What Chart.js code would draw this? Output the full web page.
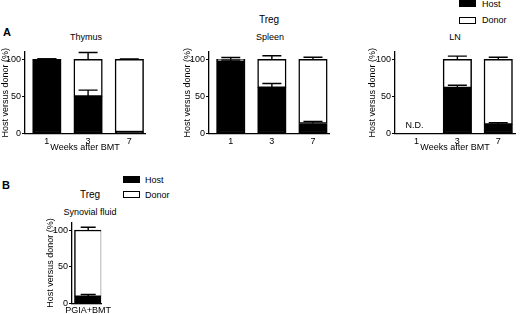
<!DOCTYPE html>
<html>
<head>
<meta charset="utf-8">
<script src="https://cdn.jsdelivr.net/npm/chart.js@4.4.1/dist/chart.umd.min.js"></script>
<style>
    body { margin: 0; background: #fff; }
    #fig { position: relative; width: 520px; height: 314px; overflow: hidden; font-family: "Liberation Sans", Arial, sans-serif; color: #000; }
    #fig canvas { position: absolute; }
    .t { position: absolute; white-space: nowrap; line-height: 1; transform: translate(-50%, -50%); font-size: 9px; }
    .l { position: absolute; white-space: nowrap; line-height: 1; transform: translateY(-50%); font-size: 9px; }
    .box { position: absolute; width: 17px; height: 7px; box-sizing: border-box; border: 1px solid #000; background: #fff; }
</style>
</head>
<body>
<div id="fig">
    <div class="t" style="left:7px;top:32px;font-size:11px;font-weight:bold">A</div>
    <div class="t" style="left:269px;top:20px;font-size:10px">Treg</div>
    <div class="t" style="left:86px;top:37px">Thymus</div>
    <div class="t" style="left:270px;top:37px">Spleen</div>
    <div class="t" style="left:455px;top:37px">LN</div>

    <div class="box" style="left:459px;top:0;background:#000"></div>
    <div class="l" style="left:482px;top:4px">Host</div>
    <div class="box" style="left:459px;top:17px"></div>
    <div class="l" style="left:482px;top:20px">Donor</div>

    <div class="t" style="left:6px;top:185px;font-size:11px;font-weight:bold">B</div>
    <div class="t" style="left:90px;top:195px;font-size:10px">Treg</div>
    <div class="t" style="left:90px;top:212px">Synovial fluid</div>
    <div class="box" style="left:123px;top:176px;background:#000"></div>
    <div class="l" style="left:145px;top:180px">Host</div>
    <div class="box" style="left:123px;top:191px"></div>
    <div class="l" style="left:145px;top:195px">Donor</div>

    <canvas id="thymus" width="148" height="117" style="left:0;top:40px"></canvas>
    <canvas id="spleen" width="150" height="117" style="left:182px;top:40px"></canvas>
    <canvas id="ln" width="151" height="117" style="left:367px;top:40px"></canvas>
    <canvas id="synovial" width="69" height="102" style="left:45px;top:212px"></canvas>
</div>
<script>
const weeks = ['1', '3', '7'];
const yTicks = [0, 50, 100];

const thymusHost = [100, 50, 2];
const thymusHostErr = [0.5, 8.6, 0.5];
const thymusDonor = [0, 50, 98];
const thymusDonorErr = [0.5, 9.4, 0.6];

const spleenHost = [98, 62, 13.5];
const spleenHostErr = [1, 5.4, 2.7];
const spleenDonor = [2, 38, 86.5];
const spleenDonorErr = [2.5, 5, 3];

const lnHost = [null, 61.5, 12.4];
const lnHostErr = [null, 3.7, 2.2];
const lnDonor = [null, 38.5, 87.6];
const lnDonorErr = [null, 4.4, 3];
const lnNotes = ['N.D.', null, null];

const synLabels = ['PGIA+BMT'];
const synHost = [9];
const synHostErr = [3];
const synDonor = [91];
const synDonorErr = [3.7];

Chart.defaults.font.family = '"Liberation Sans", Arial, sans-serif';
Chart.defaults.color = '#000';

// error bars (upward only) and the N.D. note
const panelMarks = {
    id: 'panelMarks',
    afterDatasetsDraw(chart, args, opts) {
        const ctx = chart.ctx;
        const x = chart.scales.x;
        const y = chart.scales.y;
        const base = chart.data.datasets[0].data.map(() => 0);
        ctx.save();
        ctx.strokeStyle = '#000';
        ctx.lineWidth = 1.4;
        chart.data.datasets.forEach((ds, di) => {
            const meta = chart.getDatasetMeta(di);
            ds.data.forEach((p, i) => {
                if (p.y == null) return;
                base[i] += p.y;
                const err = ds.errors[i];
                if (!err) return;
                const px = meta.data[i].x;
                const y0 = y.getPixelForValue(base[i]);
                const y1 = y.getPixelForValue(base[i] + err);
                ctx.beginPath();
                ctx.moveTo(px, y0);
                ctx.lineTo(px, y1);
                ctx.moveTo(px - opts.cap / 2, y1);
                ctx.lineTo(px + opts.cap / 2, y1);
                ctx.stroke();
            });
        });
        if (opts.notes) {
            ctx.fillStyle = '#000';
            ctx.font = '9px "Liberation Sans", Arial, sans-serif';
            ctx.textAlign = 'center';
            ctx.textBaseline = 'middle';
            opts.notes.forEach((n, i) => {
                if (!n) return;
                ctx.fillText(n, x.getPixelForValue(i) - 2, y.getPixelForValue(opts.noteY));
            });
        }
        ctx.restore();
    }
};

function drawPanel(id, labels, host, hostErr, donor, donorErr, cfg) {
    new Chart(document.getElementById(id), {
        type: 'bar',
        data: {
            datasets: [{
                label: 'Host',
                data: host.map((v, i) => ({ x: i, y: v })),
                errors: hostErr,
                backgroundColor: '#000',
                borderColor: '#000',
                borderWidth: 1.5,
                borderSkipped: false,
                barThickness: cfg.bar
            }, {
                label: 'Donor',
                data: donor.map((v, i) => ({ x: i, y: v })),
                errors: donorErr,
                backgroundColor: '#fff',
                borderColor: '#000',
                borderWidth: 1.5,
                borderSkipped: false,
                barThickness: cfg.bar
            }]
        },
        options: {
            responsive: false,
            animation: false,
            layout: { padding: { top: cfg.padTop, right: cfg.padRight, left: 0, bottom: 0 } },
            plugins: {
                legend: { display: false },
                tooltip: { enabled: false },
                panelMarks: { cap: cfg.cap, notes: cfg.notes, noteY: 10.5 }
            },
            scales: {
                x: {
                    type: 'linear',
                    stacked: true,
                    offset: false,
                    bounds: 'data',
                    min: cfg.xmin,
                    max: cfg.xmax,
                    afterBuildTicks: s => { s.ticks = labels.map((w, i) => ({ value: i })); },
                    afterFit: s => { s.height = cfg.xHeight; },
                    ticks: {
                        callback: v => labels[v],
                        font: { size: 9 },
                        color: '#000',
                        padding: cfg.xPad,
                        maxRotation: 0,
                        autoSkip: false
                    },
                    grid: { display: false, drawTicks: false, tickLength: 0 },
                    border: { color: '#000', width: 1.3 },
                    title: {
                        display: !!cfg.xTitle,
                        text: cfg.xTitle || '',
                        font: { size: 9 },
                        color: '#000',
                        padding: { top: 0, bottom: 4 }
                    }
                },
                y: {
                    stacked: true,
                    bounds: 'data',
                    min: 0,
                    max: 110,
                    afterBuildTicks: s => { s.ticks = yTicks.map(v => ({ value: v })); },
                    afterFit: s => { s.width = cfg.yWidth; },
                    ticks: { font: { size: 9 }, color: '#000', padding: 1 },
                    grid: { drawOnChartArea: false, drawTicks: true, tickLength: 3, color: '#000', lineWidth: 1 },
                    border: { color: '#000', width: 1.3 },
                    title: {
                        display: true,
                        text: 'Host versus donor (%)',
                        font: { size: 9 },
                        color: '#000',
                        padding: { top: 0, bottom: 0 }
                    }
                }
            }
        },
        plugins: [panelMarks]
    });
}

drawPanel('thymus', weeks, thymusHost, thymusHostErr, thymusDonor, thymusDonorErr, {
    yWidth: 25, padTop: 12, padRight: 3, xmin: -0.53, xmax: 2.38,
    xHeight: 23.5, xPad: 3, xTitle: 'Weeks after BMT', bar: 28.5, cap: 19
});
drawPanel('spleen', weeks, spleenHost, spleenHostErr, spleenDonor, spleenDonorErr, {
    yWidth: 27, padTop: 12, padRight: 3, xmin: -0.53, xmax: 2.39,
    xHeight: 23.5, xPad: 3, bar: 28.5, cap: 19
});
drawPanel('ln', weeks, lnHost, lnHostErr, lnDonor, lnDonorErr, {
    yWidth: 28, padTop: 12, padRight: 3, xmin: -0.526, xmax: 2.41,
    xHeight: 23.5, xPad: 3, xTitle: 'Weeks after BMT', bar: 28.5, cap: 19, notes: lnNotes
});
drawPanel('synovial', synLabels, synHost, synHostErr, synDonor, synDonorErr, {
    yWidth: 27, padTop: 10.7, padRight: 3.2, xmin: -0.54, xmax: 0.43,
    xHeight: 10.7, xPad: 1.5, bar: 27.5, cap: 15
});
</script>
</body>
</html>
